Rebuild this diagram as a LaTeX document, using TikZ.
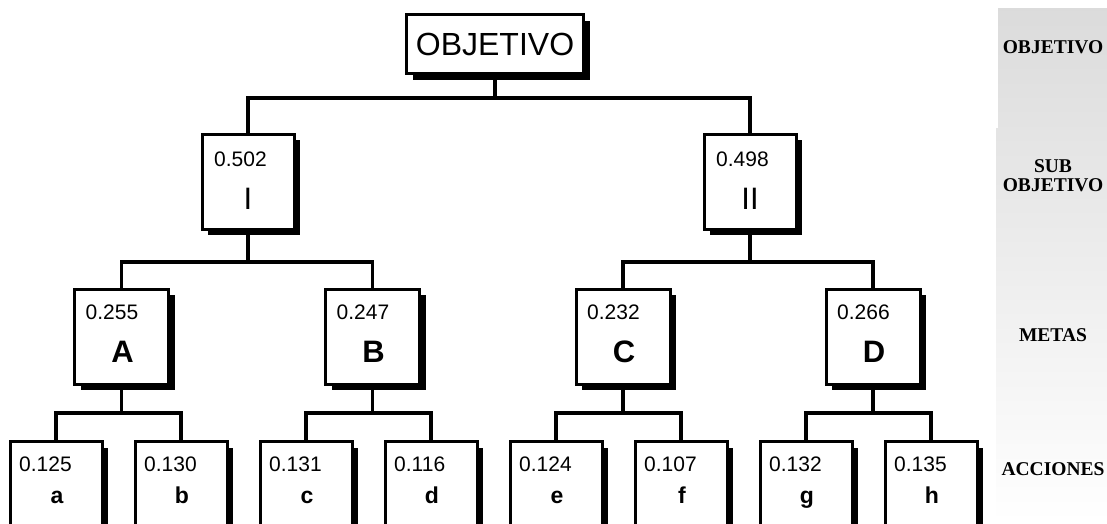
\documentclass[tikz,border=0pt]{standalone}
\usepackage{fontspec}
\setmainfont{Liberation Sans}
\newfontfamily\timesf{Liberation Serif}
\usetikzlibrary{shadows,backgrounds}
\begin{document}
\begin{tikzpicture}[x=1pt,y=-1pt,
  box/.style={draw, line width=3pt, fill=white, inner sep=0pt, line join=miter,
    drop shadow={shadow xshift=6pt, shadow yshift=-6pt, fill=black, opacity=1}},
  topbox/.style={box, minimum width=177pt, minimum height=59pt, font=\fontsize{32}{36}\selectfont},
  subbox/.style={box, minimum width=92pt, minimum height=95pt},
  metabox/.style={box, minimum width=94pt, minimum height=95pt},
  actbox/.style={box, minimum width=92pt, minimum height=120pt},
  num/.style={inner sep=0pt, anchor=base west, font=\fontsize{21}{24}\selectfont},
  roman/.style={inner sep=0pt, anchor=base, font=\fontsize{31}{34}\selectfont},
  bigletter/.style={inner sep=0pt, anchor=base, font=\fontsize{31}{34}\selectfont\bfseries},
  smallletter/.style={inner sep=0pt, anchor=base, font=\fontsize{23}{26}\selectfont\bfseries},
  level/.style={inner sep=0pt, align=center, font=\timesf\fontsize{19.5}{19}\selectfont\bfseries},
  wire/.style={line width=3.5pt, line join=miter}]
\useasboundingbox (0,0) rectangle (1107,523);
\clip (0,0) rectangle (1107,523);

% level panel
\shade[top color=gray!28, bottom color=white]
  (998,8) -- (1107,8) -- (1107,523) -- (996,523) -- (996,128) -- (998,128) -- cycle;
\node[level] (lv1) at (1053,47) {OBJETIVO};
\node[level] (lv2) at (1053,176) {SUB\\OBJETIVO};
\node[level] (lv3) at (1053,335) {METAS};
\node[level] (lv4) at (1053,469) {ACCIONES};

% bus levels
\coordinate (bus0) at (0,98);
\coordinate (bus1) at (0,262);
\coordinate (bus2) at (0,413);

% goal
\node[topbox] (O) at (495,44) {OBJETIVO};

% sub objectives
\node[subbox] (I) at (248,181.5) {};
\node[subbox] (II) at (750,181.5) {};
\node[num] (nI) at ([shift={(13.5,33.5)}]I.north west) {0.502};
\node[roman] (tI) at ([shift={(0,76.5)}]I.north) {I};
\node[num] (nII) at ([shift={(13.5,33.5)}]II.north west) {0.498};
\node[roman] (tII) at ([shift={(0,76.5)}]II.north) {II};

% goals (metas)
\foreach \n/\x/\v in {A/121.5/0.255, B/372.5/0.247, C/623/0.232, D/873/0.266}{
  \node[metabox] (\n) at (\x,336.5) {};
  \node[num] (n\n) at ([shift={(12.5,31.5)}]\n.north west) {\v};
  \node[bigletter] (t\n) at ([shift={(1,75)}]\n.north) {\n};
}

% actions
\foreach \n/\x/\v in {a/56/0.125, b/181/0.130, c/306/0.131, d/431/0.116,
                      e/556/0.124, f/681/0.107, g/806/0.132, h/931/0.135}{
  \node[actbox] (\n) at (\x,501.5) {};
  \node[num] (n\n) at ([shift={(10.5,31.5)}]\n.north west) {\v};
  \node[smallletter] (t\n) at ([shift={(1,63)}]\n.north) {\n};
}

% connectors
\begin{scope}[on background layer]
\draw[wire] (O.south) -- (O.south |- bus0) -| (I.north);
\draw[wire] (O.south |- bus0) -| (II.north);
\draw[wire] (I.south) -- (I.south |- bus1) -| (A.north);
\draw[wire] (I.south |- bus1) -| (B.north);
\draw[wire] (II.south) -- (II.south |- bus1) -| (C.north);
\draw[wire] (II.south |- bus1) -| (D.north);
\draw[wire] (A.south) -- (A.south |- bus2) -| (a.north);
\draw[wire] (A.south |- bus2) -| (b.north);
\draw[wire] (B.south) -- (B.south |- bus2) -| (c.north);
\draw[wire] (B.south |- bus2) -| (d.north);
\draw[wire] (C.south) -- (C.south |- bus2) -| (e.north);
\draw[wire] (C.south |- bus2) -| (f.north);
\draw[wire] (D.south) -- (D.south |- bus2) -| (g.north);
\draw[wire] (D.south |- bus2) -| (h.north);
\end{scope}
\end{tikzpicture}
\end{document}
